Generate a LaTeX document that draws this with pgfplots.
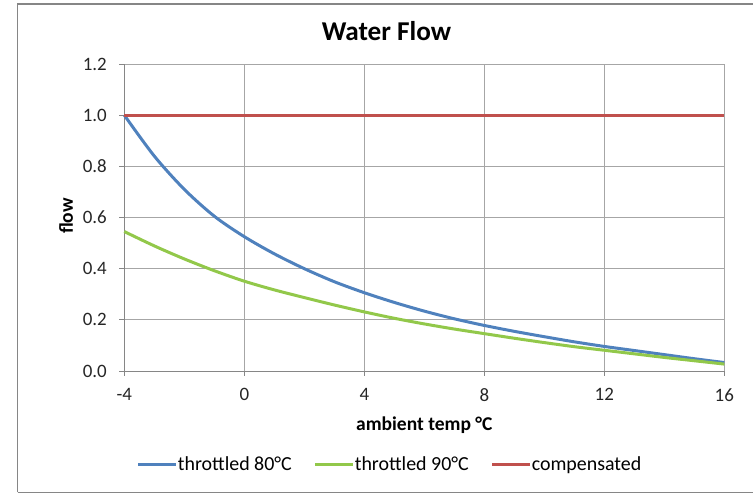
\documentclass[border=0pt]{standalone}
\usepackage{pgfplots}
\pgfplotsset{compat=1.18}
\usepackage{fontspec}
\setmainfont{Carlito}
\definecolor{cblue}{HTML}{4F81BD}
\definecolor{cgreen}{HTML}{92C84A}
\definecolor{cred}{HTML}{C0504D}
\definecolor{cgrid}{HTML}{A6A6A6}
\definecolor{caxis}{HTML}{868686}
\begin{document}
\begin{tikzpicture}[x=1bp,y=1bp]
\useasboundingbox (0,0) rectangle (753,494);
\draw[caxis, line width=1.2bp] (17.5,1.5) -- (17.5,490) -- (760,490);
\draw[caxis, line width=1.2bp] (17.5,1.5) -- (760,1.5);
\begin{axis}[
  at={(124.3bp,123bp)}, anchor=south west,
  scale only axis, width=600bp, height=307bp,
  xmin=-4, xmax=16, ymin=0, ymax=1.2,
  xtick={-4,0,4,8,12,16},
  ytick={0,0.2,0.4,0.6,0.8,1.0,1.2},
  axis lines*=left,
  axis line style={caxis, line width=0.8bp},
  grid=major,
  major grid style={cgrid, line width=0.8bp},
  tick align=outside,
  major tick length=5bp,
  tick style={caxis, line width=0.8bp},
  /pgf/number format/assume math mode=true,
  yticklabel style={/pgf/number format/fixed, /pgf/number format/fixed zerofill, /pgf/number format/precision=1, xshift=-9bp},
  ticklabel style={font=\fontsize{19}{22}\selectfont, text=black!85},
  xticklabel style={yshift=-9bp},
  title={\textbf{Water Flow}},
  title style={font=\fontsize{27.3}{31}\selectfont, at={(axis description cs:0.437,1.088)}, anchor=center},
  xlabel={\textbf{ambient temp °C}},
  xlabel style={font=\fontsize{19.6}{22}\selectfont, at={(axis description cs:0.5,-0.176)}, anchor=center},
  ylabel={\textbf{flow}},
  ylabel style={font=\fontsize{19.6}{22}\selectfont, at={(axis description cs:-0.097,0.505)}, anchor=center},
  legend columns=3,
  legend style={draw=none, fill=none, at={(axis description cs:0.443,-0.303)}, anchor=center,
    font=\fontsize{20}{23}\selectfont, /tikz/every even column/.append style={column sep=20bp},
    /tikz/every odd column/.append style={column sep=-2bp}},
  legend image code/.code={\draw[#1, line width=3bp] (0bp,0bp) -- (38bp,0bp);},
  clip=false,
]
\addplot[cblue, line width=3bp, smooth] coordinates {
(-4,1.0) (-3,0.84) (-2,0.71) (-1,0.605) (0,0.525) (1,0.458) (2,0.40) (3,0.349)
(4,0.306) (5,0.268) (6,0.234) (7,0.204) (8,0.178) (9,0.155) (10,0.134) (11,0.114)
(12,0.096) (13,0.080) (14,0.064) (15,0.048) (16,0.033)};
\addlegendentry{throttled 80°C}
\addplot[cgreen, line width=3bp, smooth] coordinates {
(-4,0.545) (-3,0.489) (-2,0.438) (-1,0.392) (0,0.351) (1,0.317) (2,0.287) (3,0.258)
(4,0.231) (5,0.206) (6,0.184) (7,0.164) (8,0.146) (9,0.128) (10,0.111) (11,0.095)
(12,0.081) (13,0.067) (14,0.053) (15,0.040) (16,0.027)};
\addlegendentry{throttled 90°C}
\addplot[cred, line width=3bp] coordinates {(-4,1.0) (16,1.0)};
\addlegendentry{compensated}
\end{axis}
\end{tikzpicture}
\end{document}
